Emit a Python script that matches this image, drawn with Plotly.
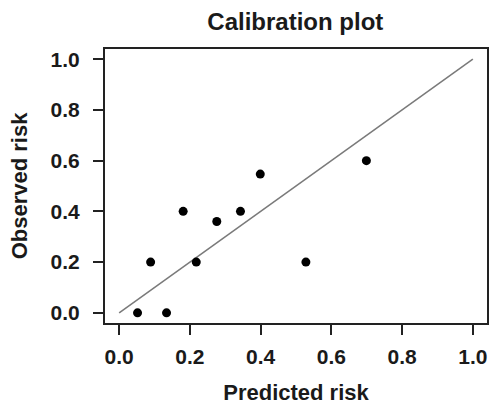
import plotly.graph_objects as go

predicted = [0.052, 0.089, 0.134, 0.181, 0.218, 0.276, 0.343, 0.399, 0.528, 0.699]
observed = [0.0, 0.2, 0.0, 0.4, 0.2, 0.36, 0.4, 0.547, 0.2, 0.6]
ref_line = [0.0, 1.0]
tick_vals = [0.0, 0.2, 0.4, 0.6, 0.8, 1.0]
tick_text = ["0.0", "0.2", "0.4", "0.6", "0.8", "1.0"]

FONT = "Liberation Sans, Arial, sans-serif"
TXT = "#1a1a1a"

fig = go.Figure()
fig.add_trace(go.Scatter(x=ref_line, y=ref_line, mode="lines",
                         line=dict(color="#7a7a7a", width=1.5),
                         hoverinfo="skip", showlegend=False))
fig.add_trace(go.Scatter(x=predicted, y=observed, mode="markers",
                         marker=dict(color="black", size=9),
                         showlegend=False))

axis_common = dict(
    range=[-0.04, 1.04], tickvals=tick_vals, ticktext=tick_text,
    showgrid=False, zeroline=False, showline=True, mirror=True,
    linecolor="#222", linewidth=2, ticks="outside", ticklen=10,
    tickwidth=2, tickcolor="#222", automargin=False,
    tickfont=dict(family=FONT, size=21, color=TXT, weight="bold"),
)

fig.update_layout(
    width=489, height=405,
    margin=dict(l=105, r=2, t=49, b=82),
    paper_bgcolor="white", plot_bgcolor="white",
    title=dict(text="Calibration plot", x=0.604, xanchor="center",
               y=1 - 22 / 405, yanchor="middle", yref="container",
               font=dict(family=FONT, size=24, color=TXT, weight="bold")),
    xaxis=dict(**axis_common, ticklabelstandoff=4,
               title=dict(text="Predicted risk", standoff=21,
                          font=dict(family=FONT, size=22, color=TXT, weight="bold"))),
    yaxis=dict(**axis_common, ticklabelstandoff=9,
               title=dict(text="Observed risk", standoff=17,
                          font=dict(family=FONT, size=22, color=TXT, weight="bold"))),
)

fig.write_html("out.html", config={"displayModeBar": False},
               post_script=["document.body.style.margin='0';"])
